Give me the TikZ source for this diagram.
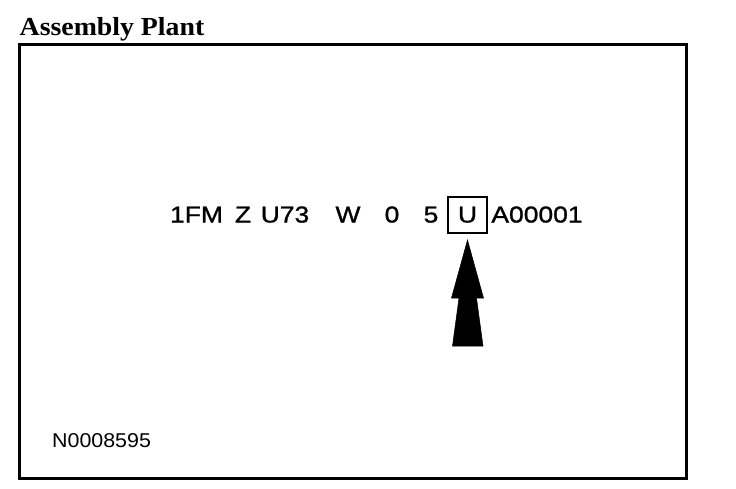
\documentclass[tikz,border=0pt]{standalone}
\usepackage{fontspec}
\setmainfont{Liberation Serif}
\newfontfamily\vinfont[FakeStretch=1.15, FakeBold=1.2]{Liberation Sans}
\newfontfamily\reffont[FakeStretch=1.07]{Liberation Sans}
\newfontfamily\headfont[FakeStretch=1.07]{Liberation Serif}
\usetikzlibrary{positioning}
\tikzstyle{heading} = [inner sep=0pt, anchor=base west, font=\headfont\bfseries\fontsize{26}{30}\selectfont]
\tikzstyle{vin} = [inner sep=0pt, anchor=base, font=\vinfont\fontsize{23}{27}\selectfont]
\tikzstyle{marker} = [draw=black, line width=2pt, minimum width=39pt, minimum height=36pt, inner sep=0pt]
\tikzstyle{pointer} = [fill=black, draw=black, line width=0.5pt, line join=miter]

\begin{document}
\begin{tikzpicture}[x=1pt, y=-1pt]
\useasboundingbox (0,0) rectangle (736,488);

\node[heading] (title) at (19.5,35) {Assembly Plant};

\node[
draw=black,
line width=3pt,
minimum width=667pt,
minimum height=433.5pt,
inner sep=0pt
] (frame) at (352.5,261.25) {};

% vehicle identification number
\node[vin] (wmi) at (196.5,222.5) {1FM};
\node[vin] (restraint) at (243,222.5) {Z};
\node[vin] (line) at (285,222.5) {U73};
\node[vin] (engine) at (348,222.5) {W};
\node[vin] (check) at (392,222.5) {0};
\node[vin] (year) at (431,222.5) {5};
\node[marker] (plantbox) at (467.5,215) {};
\node[vin] (plant) at (plantbox |- year.base) {U};
\node[vin] (serial) at (537,222.5) {A00001};

% arrow up to the plant code
\coordinate[below=6pt of plantbox] (tip);
\fill[pointer, shift={(tip)}]
(0,0) -- (16,58) -- (9,58) -- (15.5,106) -- (-15,106) -- (-8.5,58) -- (-16,58) -- cycle;

\node[inner sep=0pt, anchor=base west, font=\reffont\fontsize{20}{24}\selectfont] (ref) at (52,447) {N0008595};
\end{tikzpicture}
\end{document}
